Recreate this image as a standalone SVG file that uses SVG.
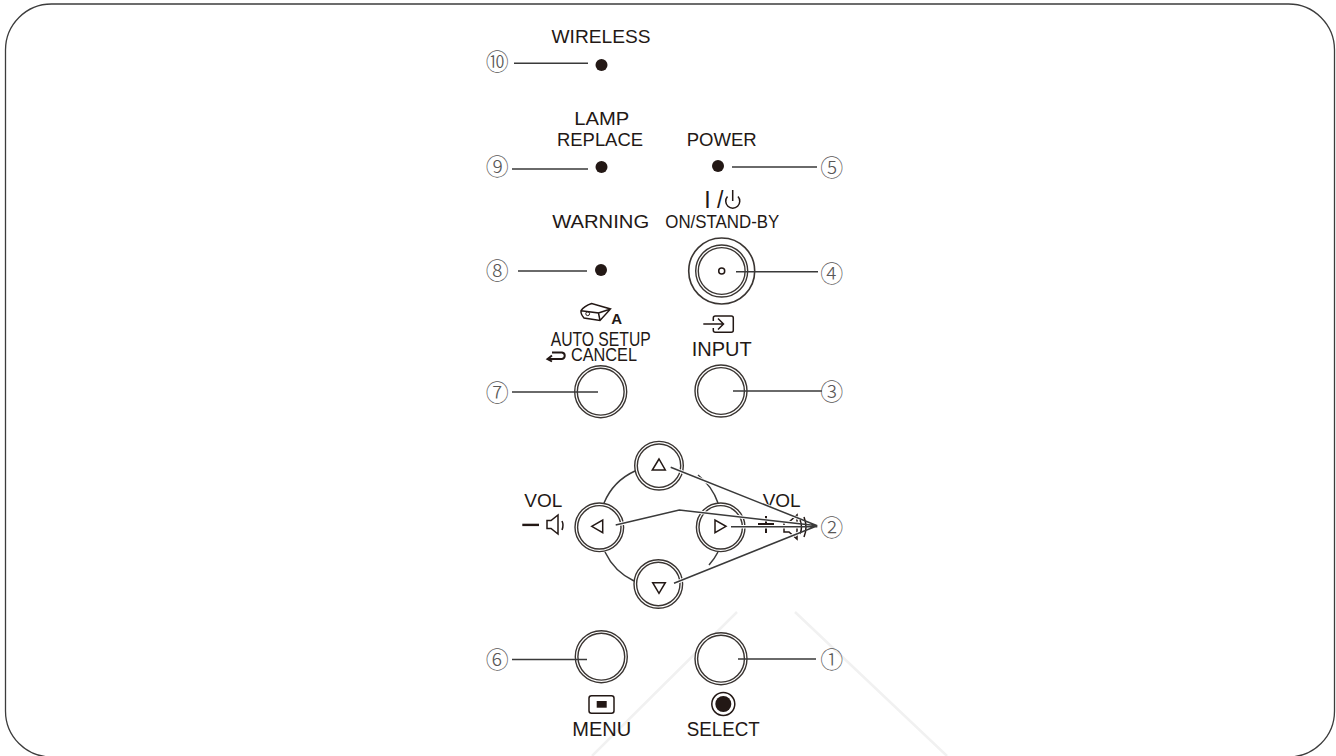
<svg xmlns="http://www.w3.org/2000/svg" width="1336" height="756" viewBox="0 0 1336 756">
<style>
.t{font-family:"Liberation Sans",Arial,sans-serif;font-size:19px;fill:#231815;text-anchor:middle}
.b{font-size:20px}
.n{font-family:"Noto Sans CJK JP","DejaVu Sans",sans-serif;font-size:23px;font-weight:300;fill:#595757;text-anchor:middle}
.ln{stroke:#3a3a3a;stroke-width:1.5;fill:none}
.halo{stroke:#fff;stroke-width:3.4;fill:none}
.ro{fill:#fff;stroke:#3a3532;stroke-width:4}
.ri{fill:none;stroke:#fff;stroke-width:1.2}
.i{fill:none;stroke:#231815;stroke-width:1.5}
.k{fill:#231815}
</style>
<defs>
<g id="btn"><circle r="24.7" class="ro"/><circle r="24.7" class="ri"/></g>
<g id="pad"><circle r="23" class="ro"/><circle r="23" class="ri"/></g>
</defs>
<rect id="frame" x="5.500" y="4" width="1329" height="753" rx="46" ry="46" fill="#fff" stroke="#3c3c3c" stroke-width="1.3"/>
<g id="watermark" stroke="#f1f1f1" stroke-width="2.500" fill="none">
<path d="M737 612L592 756M795 612L947 756"/>
</g>
<path id="dpad-ring" class="ln" d="M604 503A61 61 0 0 1 635 471M698 475A61 61 0 0 1 718 503M605 552A61 61 0 0 0 634 581M718 552A61 61 0 0 1 709 565"/>
<g id="vol-right">
<text class="t" x="781.700" y="507" textLength="38" lengthAdjust="spacingAndGlyphs">VOL</text>
<path d="M758 524H774M766 516V533" stroke="#231815" stroke-width="2" fill="none"/>
<path class="i" d="M784 522h5l8-7v24l-8-7h-5zM800 520q3 7 0 14M804 517q4 10 0 20"/>
</g>
<g id="wireless"><text class="t" x="601" y="43" textLength="99" lengthAdjust="spacingAndGlyphs">WIRELESS</text><circle class="k" cx="601.500" cy="65" r="6"/></g>
<g id="lamp"><text class="t" x="601.700" y="125" textLength="55" lengthAdjust="spacingAndGlyphs">LAMP</text><text class="t" x="600" y="146" textLength="86" lengthAdjust="spacingAndGlyphs">REPLACE</text><circle class="k" cx="601.500" cy="167" r="6"/></g>
<g id="power"><text class="t" x="721.700" y="146" textLength="70" lengthAdjust="spacingAndGlyphs">POWER</text><circle class="k" cx="718" cy="166" r="6"/></g>
<g id="warning"><text class="t" x="600.700" y="228" textLength="97" lengthAdjust="spacingAndGlyphs">WARNING</text><circle class="k" cx="601" cy="270" r="6"/></g>
<g id="on-standby">
<text class="t" x="713.800" y="207.500" style="font-size:23px" textLength="19" lengthAdjust="spacing">I/</text>
<path class="i" d="M727.500 196.500A7 7 0 1 0 738 196.500M732.700 190V201"/>
<text class="t" x="722.300" y="228" textLength="114" lengthAdjust="spacingAndGlyphs">ON/STAND-BY</text>
<circle cx="721.700" cy="271" r="33" fill="#fff" stroke="#3a3532" stroke-width="1.600"/>
<use href="#btn" x="721.700" y="271"/>
<circle cx="721.700" cy="271" r="3" fill="#fff" stroke="#231815" stroke-width="1.500"/>
</g>
<g id="auto-setup">
<path class="i" d="M581 310.700Q584 306 591.700 303.500L610.500 309L600 320.500L584 318Q580.500 314 581 310.700ZM581 310.700L598.500 313L600 320.500M598.500 313L610.500 309"/>
<circle cx="587.700" cy="313.700" r="1.900" fill="none" stroke="#231815" stroke-width="1"/>
<text x="616.700" y="324" style="font-family:'Liberation Sans',Arial,sans-serif;font-size:15px;font-weight:700;fill:#231815;text-anchor:middle">A</text>
<text class="t b" x="600.700" y="346" textLength="100" lengthAdjust="spacingAndGlyphs">AUTO SETUP</text>
<text class="t" style="font-size:17.500px" x="604" y="361.300" textLength="66" lengthAdjust="spacingAndGlyphs">CANCEL</text>
<path d="M552 352.500H562a3.300 3.300 0 0 1 0 6.500H548M552 355.500l-4.500 3.500 4.500 2.500" fill="none" stroke="#231815" stroke-width="2"/>
<use href="#btn" x="600.700" y="391.700"/>
</g>
<g id="input">
<path class="i" d="M713.300 321V318a2 2 0 0 1 2-2H731.300a2 2 0 0 1 2 2V330.300a2 2 0 0 1-2 2H715.300a2 2 0 0 1-2-2V328M703.300 324H723M718 318.500L723.500 324L718 329.500"/>
<text class="t b" x="721.700" y="356" textLength="60" lengthAdjust="spacingAndGlyphs">INPUT</text>
<use href="#btn" x="721" y="391"/>
</g>
<g id="vol-left">
<text class="t" x="543.300" y="507" textLength="38" lengthAdjust="spacingAndGlyphs">VOL</text>
<rect class="k" x="522.300" y="523.700" width="16.700" height="2.400"/>
<path class="i" d="M547 520.500h4l7-5.500v19l-7-5.500h-4zM562 521q2 4 0 9"/>
</g>
<g id="up"><use href="#pad" x="659" y="465.700"/><path class="i" d="M659 459L652.300 470H665.300Z"/></g>
<g id="left"><use href="#pad" x="599.300" y="527.300"/><path class="i" d="M591.700 526.300L602.700 520V532.700Z"/></g>
<g id="right"><use href="#pad" x="720.700" y="527.300"/><path class="i" d="M715 520V532.700L726 526.300Z"/></g>
<g id="down"><use href="#pad" x="658.300" y="584"/><path class="i" d="M652.700 582.700H665.300L659 593.300Z"/></g>
<g id="menu">
<use href="#btn" x="601.300" y="656.700"/>
<rect class="i" x="589" y="695.700" width="25" height="17.600" rx="2.500"/>
<rect class="k" x="596.700" y="701" width="10" height="6.700"/>
<text class="t b" x="601.700" y="736" textLength="59" lengthAdjust="spacingAndGlyphs">MENU</text>
</g>
<g id="select">
<use href="#btn" x="721" y="658.700"/>
<circle class="i" cx="723.300" cy="704" r="11.500"/>
<circle class="k" cx="723.300" cy="704" r="8"/>
<text class="t b" x="723.300" y="736" textLength="73" lengthAdjust="spacingAndGlyphs">SELECT</text>
</g>
<g id="connectors">
<path class="halo" d="M670.700 467.300L800 519M615.700 525L679.300 510L800 523.700M731 526.700H800M674 583.300L800 532.600"/>
<path class="ln" d="M514 63.300H588M512 169H588M732 167H817M518 271H587M736 271.700H818M512 392H598M733 391H822M512 659.500H587M738 659H816"/>
<path class="ln" d="M670.700 467.300L817.300 525.700M615.700 525L679.300 510L817.300 525.700M731 526.700H817.300M674 583.300L817.300 525.700"/>
</g>
<g id="callouts">
<text class="n" x="497.300" y="70">⑩</text>
<text class="n" x="497.300" y="174.500">⑨</text>
<text class="n" x="831.700" y="176">⑤</text>
<text class="n" x="497.300" y="278.500">⑧</text>
<text class="n" x="831.700" y="282">④</text>
<text class="n" x="497.300" y="401">⑦</text>
<text class="n" x="831.700" y="400">③</text>
<text class="n" x="831.700" y="536">②</text>
<text class="n" x="497.300" y="667.500">⑥</text>
<text class="n" x="831.700" y="667.500">①</text>
</g>
</svg>
